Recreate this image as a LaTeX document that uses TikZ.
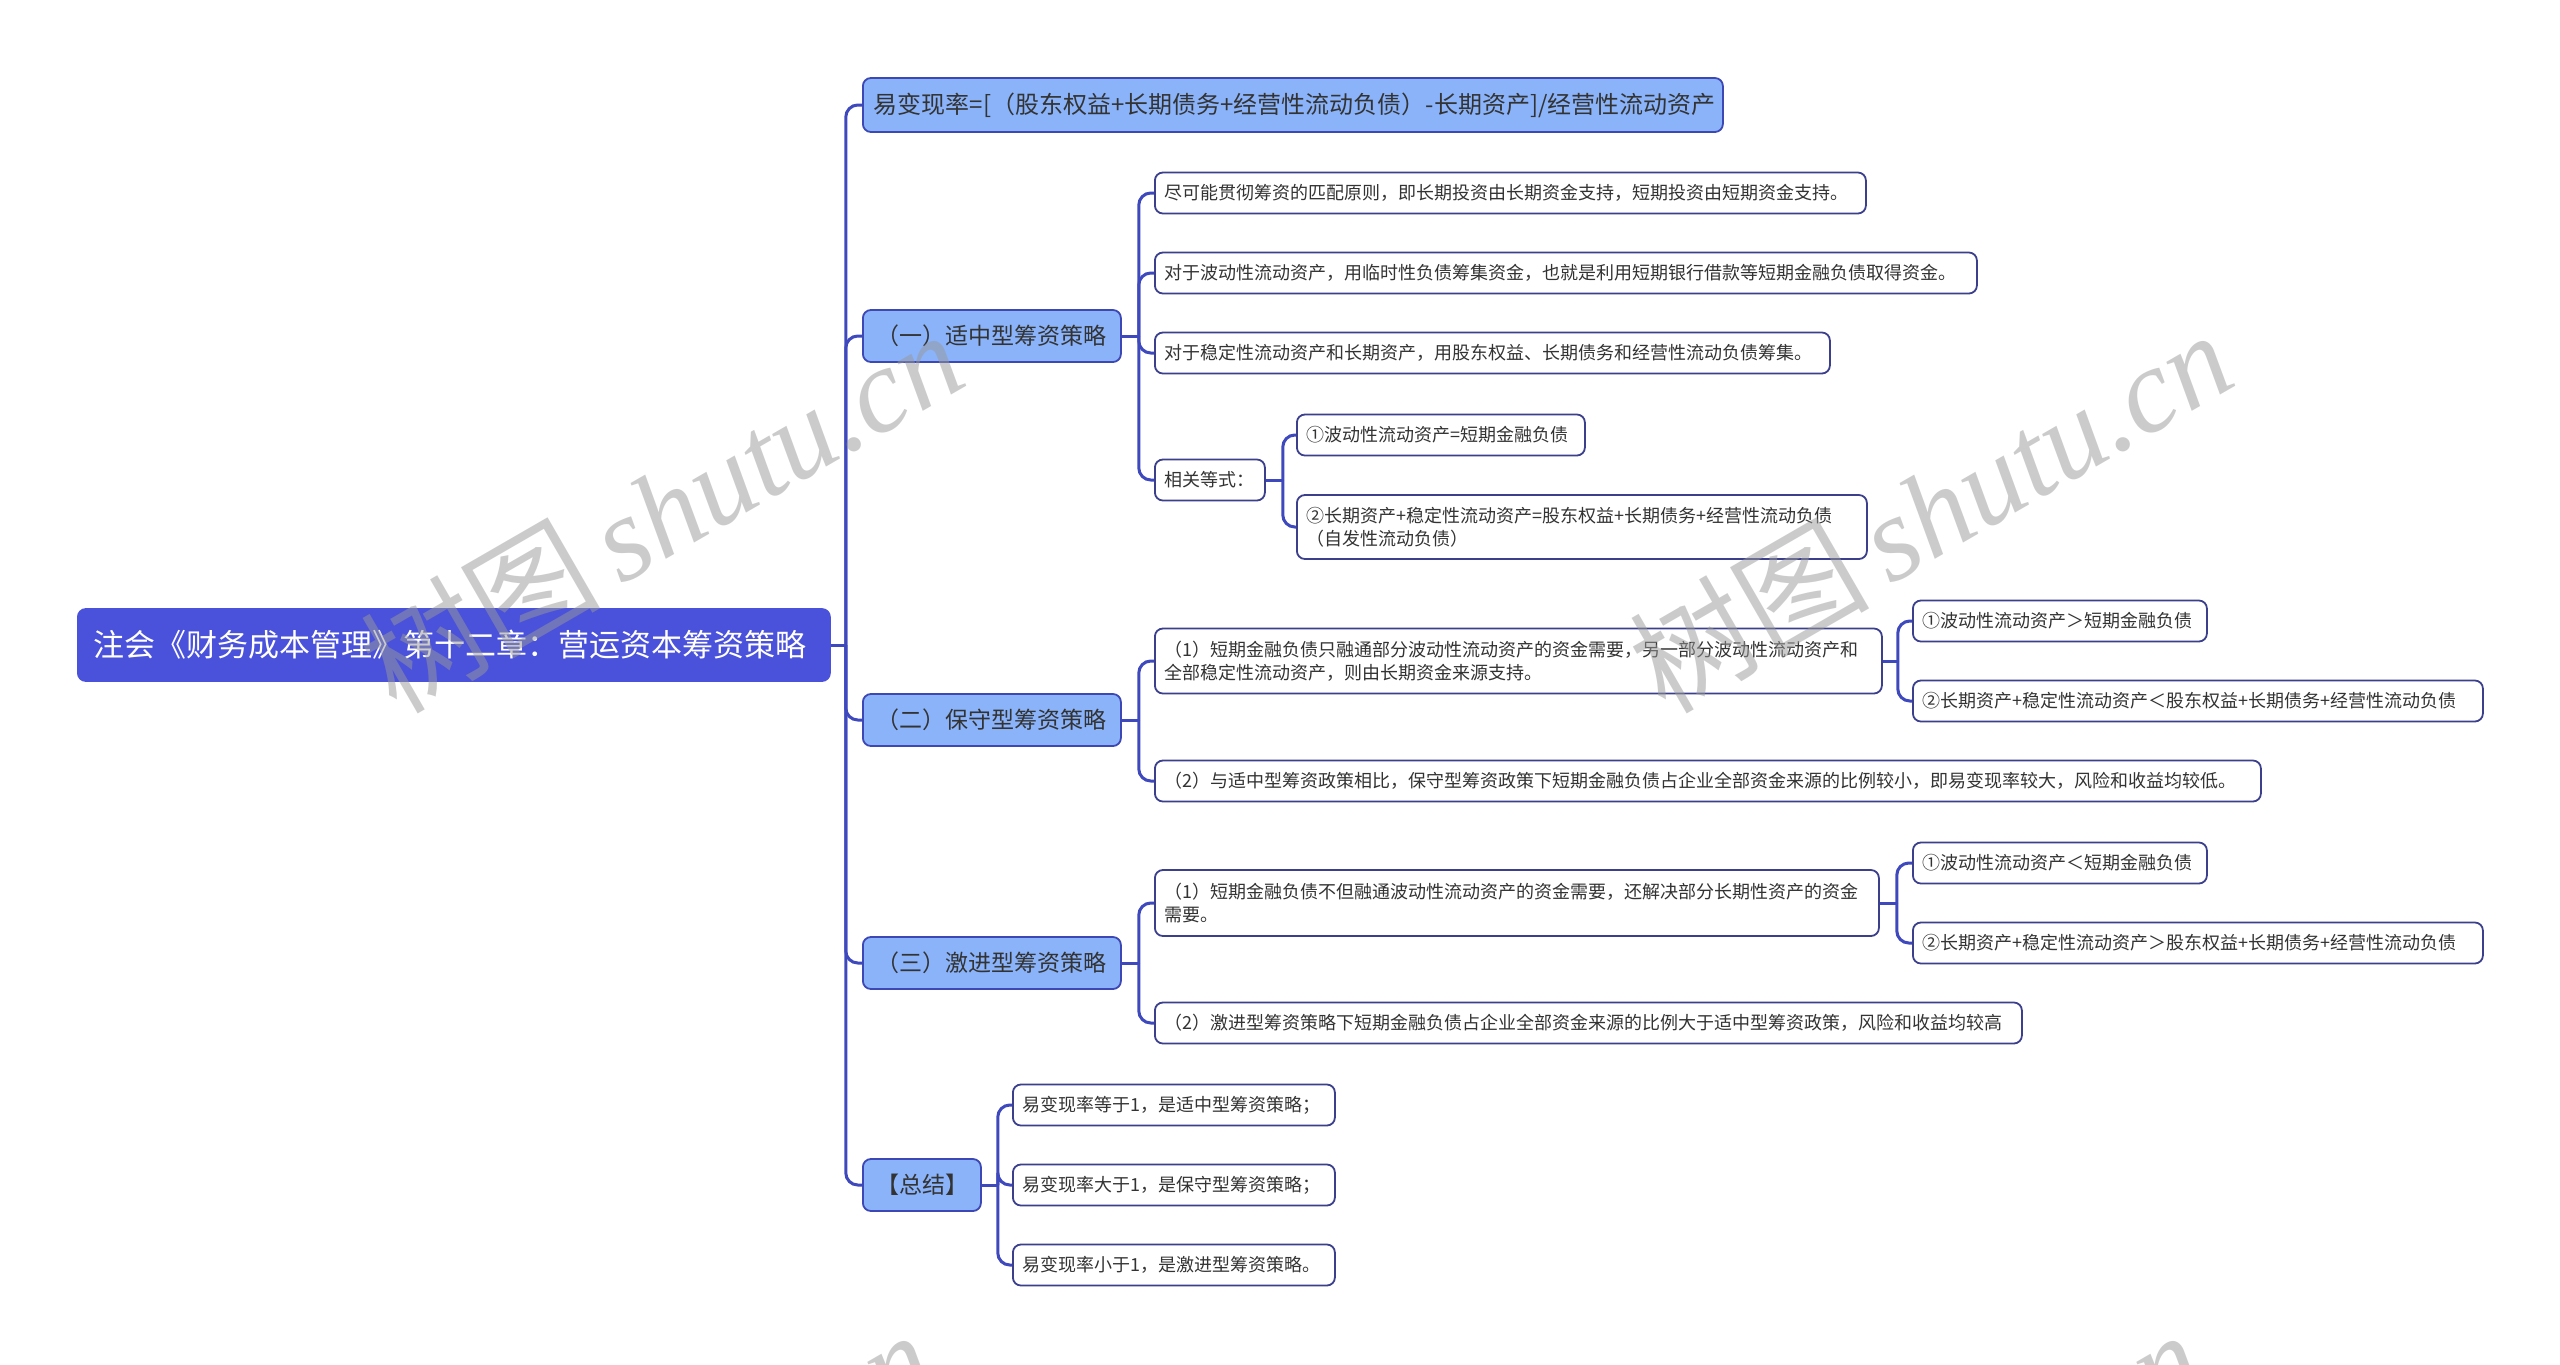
\documentclass[tikz,border=0pt]{standalone}
\usepackage{fontspec}
\setmainfont{Noto Sans CJK SC}
\newfontfamily\wmlatin{Liberation Serif}
\newfontfamily\wmcjk{Noto Sans CJK SC}
\definecolor{rootfill}{HTML}{4A51DA}
\definecolor{lvlfill}{HTML}{8AB3F9}
\definecolor{lvlborder}{HTML}{3D48B5}
\definecolor{leafborder}{HTML}{3B3F8C}
\definecolor{connc}{HTML}{3F49BE}
\definecolor{txt}{HTML}{333333}
\begin{document}
\begin{tikzpicture}[x=1pt,y=-1pt,
  box/.style={inner ysep=0pt, align=left, anchor=west, rounded corners=8pt, line width=1.8pt, text=txt},
  leaf/.style={box, draw=leafborder, fill=white, minimum height=41pt, inner xsep=10pt, font=\fontsize{18}{23}\selectfont},
  leaftwo/.style={leaf, minimum height=64pt},
  lvl/.style={box, draw=lvlborder, fill=lvlfill, minimum height=52pt, inner xsep=14pt, font=\fontsize{23}{28}\selectfont},
  rootn/.style={box, draw=rootfill, fill=rootfill, text=white, minimum height=72pt, inner xsep=16pt, font=\fontsize{31}{36}\selectfont},
  conn/.style={draw=connc, line width=3pt, rounded corners=12pt},
  wm/.style={anchor=center, rotate=30, text=black!40, text opacity=0.5, inner sep=0pt}
]
\useasboundingbox (0,0) rectangle (2560,1365);
\fill[white] (0,0) rectangle (2560,1365);

% root
\node[rootn, text width=720pt] (root) at (77,645) {注会《财务成本管理》第十二章：营运资本筹资策略};

% level 1
\node[lvl, inner xsep=11pt, minimum height=54pt, font=\fontsize{24}{28}\selectfont, text width=838pt] (A) at (862,105) {\mbox{易变现率=[（股东权益+长期债务+经营性流动负债）-长期资产]/经营性流动资产}};
\node[lvl, text width=230pt] (B) at (862,336) {（一）适中型筹资策略};
\node[lvl, text width=230pt] (C) at (862,720) {（二）保守型筹资策略};
\node[lvl, text width=230pt] (D) at (862,963) {（三）激进型筹资策略};
\node[lvl, text width=90pt] (E) at (862,1185) {【总结】};

% B children
\node[leaf, text width=691pt] (B1) at (1154,193) {尽可能贯彻筹资的匹配原则，即长期投资由长期资金支持，短期投资由短期资金支持。};
\node[leaf, text width=802pt] (B2) at (1154,273) {对于波动性流动资产，用临时性负债筹集资金，也就是利用短期银行借款等短期金融负债取得资金。};
\node[leaf, text width=655pt] (B3) at (1154,353) {对于稳定性流动资产和长期资产，用股东权益、长期债务和经营性流动负债筹集。};
\node[leaf, text width=90pt] (B4) at (1154,480) {相关等式：};
\node[leaf, text width=268pt] (B4a) at (1296,435) {①波动性流动资产=短期金融负债};
\node[leaftwo, text width=550pt] (B4b) at (1296,527) {②长期资产+稳定性流动资产=股东权益+长期债务+经营性流动负债\\（自发性流动负债）};

% C children
\node[leaftwo, minimum height=65pt, text width=707pt] (C1) at (1154,661) {（1）短期金融负债只融通部分波动性流动资产的资金需要，另一部分波动性流动资产和\\全部稳定性流动资产，则由长期资金来源支持。};
\node[leaf, text width=274pt] (C1a) at (1912,621) {①波动性流动资产＞短期金融负债};
\node[leaf, text width=550pt] (C1b) at (1912,701) {②长期资产+稳定性流动资产＜股东权益+长期债务+经营性流动负债};
\node[leaf, text width=1086pt] (C2) at (1154,781) {（2）与适中型筹资政策相比，保守型筹资政策下短期金融负债占企业全部资金来源的比例较小，即易变现率较大，风险和收益均较低。};

% D children
\node[leaftwo, minimum height=66pt, text width=704pt] (D1) at (1154,903) {（1）短期金融负债不但融通波动性流动资产的资金需要，还解决部分长期性资产的资金\\需要。};
\node[leaf, text width=274pt] (D1a) at (1912,863) {①波动性流动资产＜短期金融负债};
\node[leaf, text width=550pt] (D1b) at (1912,943) {②长期资产+稳定性流动资产＞股东权益+长期债务+经营性流动负债};
\node[leaf, text width=847pt] (D2) at (1154,1023) {（2）激进型筹资策略下短期金融负债占企业全部资金来源的比例大于适中型筹资政策，风险和收益均较高};

% E children
\node[leaf, text width=302pt] (E1) at (1012,1105) {易变现率等于1，是适中型筹资策略；};
\node[leaf, text width=302pt] (E2) at (1012,1185) {易变现率大于1，是保守型筹资策略；};
\node[leaf, text width=302pt] (E3) at (1012,1265) {易变现率小于1，是激进型筹资策略。};

% bus coordinates
\coordinate (rb) at ([xshift=15pt]root.east);
\coordinate (Bb) at ([xshift=17pt]B.east);
\coordinate (Cb) at ([xshift=17pt]C.east);
\coordinate (Db) at ([xshift=17pt]D.east);
\coordinate (Eb) at ([xshift=16pt]E.east);
\coordinate (B4bus) at ([xshift=17pt]B4.east);
\coordinate (C1bus) at ([xshift=15pt]C1.east);
\coordinate (D1bus) at ([xshift=17pt]D1.east);

% connectors
\draw[conn] (root.east) -- (rb);
\foreach \n in {A,B,C,D,E} {\draw[conn] (rb) |- (\n.west);}
\draw[conn] (B.east) -- (Bb);
\foreach \n in {B1,B2,B3,B4} {\draw[conn] (Bb) |- (\n.west);}
\draw[conn] (B4.east) -- (B4bus);
\foreach \n in {B4a,B4b} {\draw[conn] (B4bus) |- (\n.west);}
\draw[conn] (C.east) -- (Cb);
\foreach \n in {C1,C2} {\draw[conn] (Cb) |- (\n.west);}
\draw[conn] (C1.east) -- (C1bus);
\foreach \n in {C1a,C1b} {\draw[conn] (C1bus) |- (\n.west);}
\draw[conn] (D.east) -- (Db);
\foreach \n in {D1,D2} {\draw[conn] (Db) |- (\n.west);}
\draw[conn] (D1.east) -- (D1bus);
\foreach \n in {D1a,D1b} {\draw[conn] (D1bus) |- (\n.west);}
\draw[conn] (E.east) -- (Eb);
\foreach \n in {E1,E2,E3} {\draw[conn] (Eb) |- (\n.west);}

% watermark
\begin{scope}
\clip (0,0) rectangle (2560,1365);
\foreach \wx/\wy [count=\i] in {661/510, 1930/510, 631/1510, 1900/1510} {
  \node[wm] (wm\i) at (\wx,\wy) {\fontsize{120}{120}\selectfont\wmcjk 树图\,\wmlatin\itshape shutu.cn};
}
\end{scope}
\end{tikzpicture}
\end{document}
